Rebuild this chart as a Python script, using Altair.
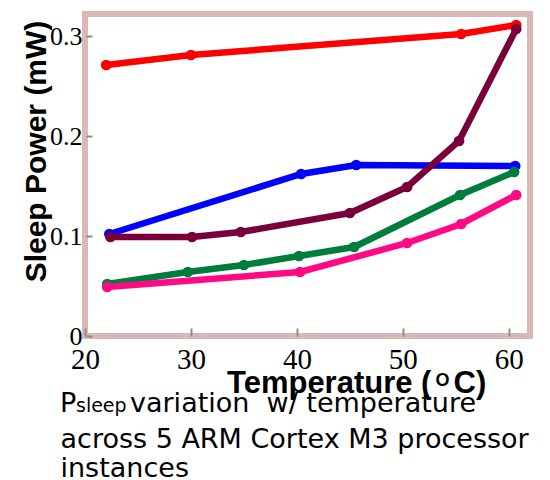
import altair as alt
import pandas as pd

# ---- data ----
series_names = ["Red", "Blue", "Green", "Pink", "Maroon"]
red_t = [22.0, 30.0, 55.5, 60.7]
red_p = [0.271, 0.281, 0.302, 0.311]
blue_t = [22.3, 40.4, 45.6, 60.6]
blue_p = [0.102, 0.162, 0.171, 0.170]
green_t = [22.1, 29.7, 35.0, 40.2, 45.4, 55.4, 60.5]
green_p = [0.052, 0.064, 0.071, 0.080, 0.089, 0.141, 0.164]
pink_t = [22.1, 40.3, 50.4, 55.5, 60.7]
pink_p = [0.049, 0.064, 0.093, 0.112, 0.141]
maroon_t = [22.4, 30.1, 34.7, 45.0, 50.4, 55.3, 60.7]
maroon_p = [0.099, 0.099, 0.104, 0.123, 0.149, 0.195, 0.307]
series_colors = ["#ff0000", "#0000ff", "#007d3c", "#ff0a84", "#7a003c"]

x_ticks = [20, 30, 40, 50, 60]
y_ticks = [0, 0.1, 0.2, 0.3]

rows = []
for name, ts, ps in zip(series_names,
                        [red_t, blue_t, green_t, pink_t, maroon_t],
                        [red_p, blue_p, green_p, pink_p, maroon_p]):
    for t, p in zip(ts, ps):
        rows.append({"series": name, "temp": t, "power": p})
df = pd.DataFrame(rows)

x_enc = alt.X("temp:Q",
              scale=alt.Scale(domain=[20, 62], nice=False, zero=False),
              axis=alt.Axis(values=x_ticks, title=None, domain=False, grid=False,
                            offset=-8, tickSize=8, tickWidth=2, tickColor="#8c8c8c",
                            labelFont="Liberation Serif", labelFontSize=29,
                            labelColor="black", labelBaseline="alphabetic",
                            labelPadding=32, labelFlush=False, labelOverlap=False))
y_enc = alt.Y("power:Q",
              scale=alt.Scale(domain=[0, 0.322], nice=False, zero=True),
              axis=alt.Axis(values=y_ticks, title=None, domain=False, grid=False,
                            offset=-7, tickSize=6, tickWidth=2, tickColor="#8c8c8c",
                            labelFont="Liberation Serif", labelFontSize=26,
                            labelColor="black", labelPadding=4,
                            labelExpr="datum.value == 0 ? '0' : format(datum.value, '.1f')",
                            labelFlush=False, labelOverlap=False))
color_enc = alt.Color("series:N",
                      scale=alt.Scale(domain=series_names, range=series_colors),
                      legend=None)

base = alt.Chart(df)
lines = base.mark_line(strokeWidth=6.5).encode(x=x_enc, y=y_enc, color=color_enc,
                                                detail="series:N")
points = base.mark_circle(size=115, opacity=1).encode(x=x_enc, y=y_enc, color=color_enc)

one = pd.DataFrame({"a": [0]})


def label(text, x, y, size, font="DejaVu Sans", weight="normal", angle=0, align="left"):
    return alt.Chart(one).mark_text(
        font=font, fontSize=size, fontWeight=weight, angle=angle, align=align,
        baseline="alphabetic", color="black"
    ).encode(x=alt.value(x), y=alt.value(y), text=alt.value(text))


texts = [
    label("Sleep Power (mW)", -39, 137.5, 30, font="Liberation Sans", weight="bold",
          angle=270, align="center"),
    label("Temperature (", 142, 379, 31, font="Liberation Sans", weight="bold"),
    label("O", 350.5, 372, 18, font="Liberation Sans", weight="bold"),
    label("C)", 368.5, 379, 31, font="Liberation Sans", weight="bold"),
    label("P", -25, 397.7, 27),
    label("sleep", -9, 397.7, 19),
    label("variation\u00a0 w/ temperature", 45, 397.7, 27),
    label("across 5 ARM Cortex M3 processor", -24.5, 433.7, 27),
    label("instances", -24.5, 462.7, 27),
]

chart = alt.layer(lines, points, *texts).properties(
    width=445, height=322,
    padding={"left": 77, "top": 6, "right": 10, "bottom": 146},
    autosize=alt.AutoSizeParams(type="none"),
).configure_view(stroke="#dab8b5", strokeWidth=6)

chart.save("out.html", embed_options={"renderer": "svg", "actions": False})
